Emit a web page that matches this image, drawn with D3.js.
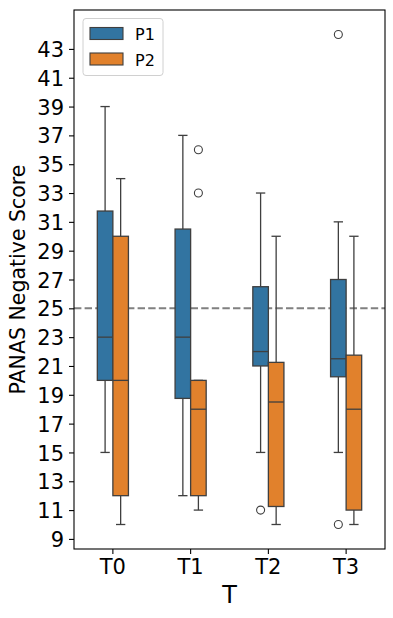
<!DOCTYPE html>
<html>
<head>
<meta charset="utf-8">
<script src="https://cdn.jsdelivr.net/npm/d3@7"></script>
<style>
  body { margin: 0; background: #fff; }
  text { font-family: "DejaVu Sans", sans-serif; fill: #000; }
</style>
</head>
<body>
<div id="chart"></div>
<script>
var periods = ["T0", "T1", "T2", "T3"];
var groups = ["P1", "P2"];
var yTicks = [9, 11, 13, 15, 17, 19, 21, 23, 25, 27, 29, 31, 33, 35, 37, 39, 41, 43];

// [lower whisker, Q1, median, Q3, upper whisker] for each period
var p1Stats = [[15, 20, 23, 31.75, 39], [12, 18.75, 23, 30.5, 37], [15, 21, 22, 26.5, 33], [15, 20.25, 21.5, 27, 31]];
var p2Stats = [[10, 12, 20, 30, 34], [11, 12, 18, 20, 20], [10, 11.25, 18.5, 21.25, 30], [10, 11, 18, 21.75, 30]];
var p1Outliers = [[], [], [11], [44, 10]];
var p2Outliers = [[], [36, 33], [], []];
var refLine = 25;

var margin = { top: 10, right: 8, bottom: 69, left: 74 },
  width = 393 - margin.left - margin.right,
  height = 618 - margin.top - margin.bottom;

var color = d3.scaleOrdinal().domain(groups).range(["#3274a1", "#e1812c"]);
var lineColor = "#3f3f3f";

var svg = d3.select("#chart")
  .append("svg")
  .attr("width", 393)
  .attr("height", 618)
  .append("g")
  .attr("transform", "translate(" + margin.left + "," + margin.top + ")");

var x = d3.scaleBand().domain(periods).range([0, width]).padding(0);
var y = d3.scaleLinear().domain([8.3, 45.7]).range([height, 0]);
var hue = d3.scaleBand().domain(groups)
  .range([-0.2 * x.bandwidth(), 0.2 * x.bandwidth()]);

var boxes = [];
periods.forEach(function (p, i) {
  boxes.push({ period: p, group: "P1", s: p1Stats[i], out: p1Outliers[i] });
  boxes.push({ period: p, group: "P2", s: p2Stats[i], out: p2Outliers[i] });
});

// reference line
svg.append("line")
  .attr("x1", 0).attr("x2", width)
  .attr("y1", y(refLine)).attr("y2", y(refLine))
  .style("stroke", "#808080")
  .style("stroke-width", 2)
  .style("stroke-dasharray", "7.4,3.2");

var bw = hue.bandwidth();
var g = svg.selectAll(".box")
  .data(boxes).enter()
  .append("g")
  .attr("class", "box")
  .attr("transform", function (d) {
    return "translate(" + (x(d.period) + x.bandwidth() / 2 + hue(d.group) + bw / 2) + ",0)";
  });

// whiskers
g.append("line")
  .attr("y1", function (d) { return y(d.s[0]); })
  .attr("y2", function (d) { return y(d.s[1]); })
  .style("stroke", lineColor).style("stroke-width", 1.3);
g.append("line")
  .attr("y1", function (d) { return y(d.s[3]); })
  .attr("y2", function (d) { return y(d.s[4]); })
  .style("stroke", lineColor).style("stroke-width", 1.3);

// caps
[0, 4].forEach(function (k) {
  g.append("line")
    .attr("x1", -bw * 0.3).attr("x2", bw * 0.3)
    .attr("y1", function (d) { return y(d.s[k]); })
    .attr("y2", function (d) { return y(d.s[k]); })
    .style("stroke", lineColor).style("stroke-width", 1.3);
});

// boxes
g.append("rect")
  .attr("x", -bw / 2)
  .attr("width", bw)
  .attr("y", function (d) { return y(d.s[3]); })
  .attr("height", function (d) { return y(d.s[1]) - y(d.s[3]); })
  .style("fill", function (d) { return color(d.group); })
  .style("stroke", lineColor).style("stroke-width", 1.3);

// medians
g.append("line")
  .attr("x1", -bw / 2).attr("x2", bw / 2)
  .attr("y1", function (d) { return y(d.s[2]); })
  .attr("y2", function (d) { return y(d.s[2]); })
  .style("stroke", lineColor).style("stroke-width", 1.3);

// outliers
g.selectAll(".flier")
  .data(function (d) { return d.out; }).enter()
  .append("circle")
  .attr("class", "flier")
  .attr("cx", 0)
  .attr("cy", function (v) { return y(v); })
  .attr("r", 4)
  .style("fill", "none")
  .style("stroke", lineColor).style("stroke-width", 1.1);

// axes
var yAxis = svg.append("g")
  .call(d3.axisLeft(y).tickValues(yTicks).tickSize(5).tickPadding(5));
var xAxis = svg.append("g")
  .attr("transform", "translate(0," + height + ")")
  .call(d3.axisBottom(x).tickSize(5).tickPadding(5));

[yAxis, xAxis].forEach(function (a) {
  a.select(".domain").remove();
  a.selectAll(".tick line").style("stroke", "#000").style("stroke-width", 1.1);
  a.selectAll(".tick text")
    .style("font-family", "DejaVu Sans")
    .style("font-size", "21px")
    .style("fill", "#000");
});
yAxis.selectAll(".tick text").attr("dy", "0.36em");
xAxis.selectAll(".tick text").attr("dy", "0.73em");

// frame
svg.append("rect")
  .attr("width", width).attr("height", height)
  .style("fill", "none")
  .style("stroke", "#000")
  .style("stroke-width", 1.1);

svg.append("text")
  .attr("transform", "translate(" + (25 - margin.left) + "," + (height / 2) + ") rotate(-90)")
  .style("text-anchor", "middle")
  .style("font-size", "20.5px")
  .text("PANAS Negative Score");

svg.append("text")
  .attr("x", width / 2)
  .attr("y", 603 - margin.top)
  .style("text-anchor", "middle")
  .style("font-size", "24px")
  .text("T");

// legend
var legend = svg.append("g").attr("transform", "translate(9,8.5)");
legend.append("rect")
  .attr("width", 80).attr("height", 57)
  .attr("rx", 3)
  .style("fill", "#fff").style("fill-opacity", 0.8)
  .style("stroke", "#d0d0d0").style("stroke-width", 1);

var items = legend.selectAll(".legend-item")
  .data(groups).enter()
  .append("g")
  .attr("class", "legend-item")
  .attr("transform", function (d, i) { return "translate(7," + (9 + i * 25.5) + ")"; });

items.append("rect")
  .attr("width", 33).attr("height", 12)
  .style("fill", color)
  .style("stroke", lineColor).style("stroke-width", 1.1);

items.append("text")
  .attr("x", 45)
  .attr("y", 12.5)
  .style("font-size", "16px")
  .text(function (d) { return d; });
</script>
</body>
</html>
